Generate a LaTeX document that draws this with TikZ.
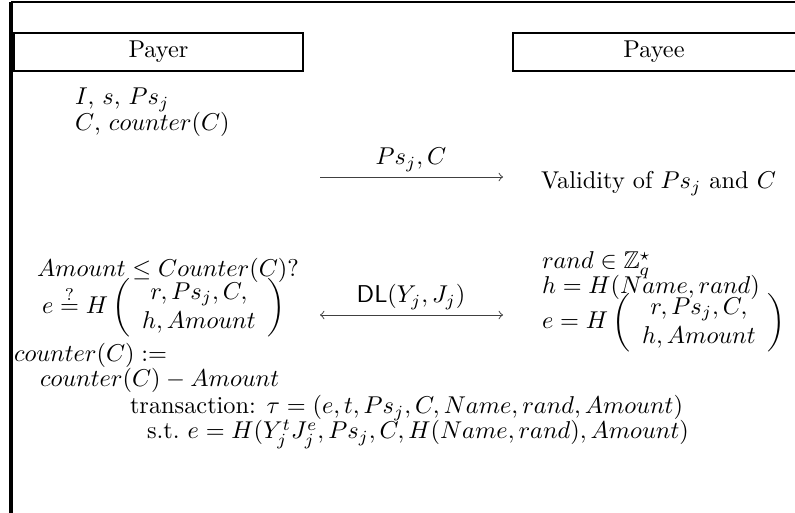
\documentclass[tikz,border=0pt]{standalone}
\usepackage{amsmath,amssymb}
\begin{document}
\begin{tikzpicture}[x=0.411pt,y=-0.411pt,
  frame/.style={line width=1.5pt},
  topline/.style={line width=1.1pt},
  rolebox/.style={line width=1.1pt},
  msg/.style={line width=0.4pt,draw=black!75},
  txt/.style={anchor=base west,inner sep=0pt,outer sep=0pt},
  lbl/.style={anchor=base,inner sep=0pt}]
\useasboundingbox (0,0) rectangle (795,513);
% frame
\coordinate (fb) at (11,520);
\coordinate (fc) at (11,2);
\coordinate (fr) at (800,2);
\draw[frame] (fb) -- (fc);
\draw[topline] (fc) -- (fr);
% role boxes
\draw[rolebox] (14,33) rectangle (303,71);
\node (payer) at (158.5,52) {Payer};
\draw[rolebox] (513,33) rectangle (810,71);
\node (payee) at (654,52) {Payee};
% payer knowledge
\node[txt] (k1) at (75,105) {$I$, $s$, $Ps_j$};
\node[txt] (k2) at (75,131) {$C$, $counter(C)$};
% message 1
\coordinate (m1a) at (320,177);
\coordinate (m1b) at (503,177);
\draw[msg,->] (m1a) -- (m1b);
\node[lbl] (l1) at (411,165) {$Ps_j, C$};
\node[txt] (valid) at (541,189) {Validity of $Ps_j$ and $C$};
% payee computations
\node[txt] (rand) at (542,269) {$rand \in \mathbb{Z}_q^\star$};
\node[txt] (hh) at (542,294) {$h = H(Name, rand)$};
\node[txt] (ee) at (542,329) {$e = H\left(\begin{array}{c} r, Ps_j, C,\\ h, Amount\end{array}\right)$};
% message 2
\coordinate (m2a) at (320,315);
\coordinate (m2b) at (503,315);
\draw[msg,<->] (m2a) -- (m2b);
\node[lbl] (l2) at (411,303) {$\mathsf{DL}(Y_j, J_j)$};
% payer checks
\node[txt] (amt) at (37,277) {$Amount \le Counter(C)?$};
\node[txt] (echk) at (42,314) {$e \stackrel{?}{=} H\left(\begin{array}{c} r, Ps_j, C,\\ h, Amount\end{array}\right)$};
\node[txt] (c1) at (14,362) {$counter(C) :=$};
\node[txt] (c2) at (40,387) {$counter(C) - Amount$};
\node[txt] (tx) at (130,414) {transaction: $\tau = (e, t, Ps_j, C, Name, rand, Amount)$};
\node[txt] (st) at (147,439) {s.t.\ $e = H(Y_j^t J_j^e, Ps_j, C, H(Name, rand), Amount)$};
\end{tikzpicture}
\end{document}
